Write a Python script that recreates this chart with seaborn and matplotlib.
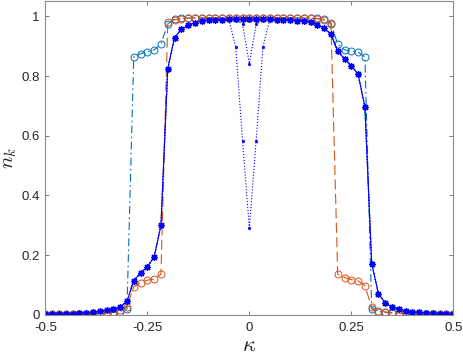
import numpy as np
import matplotlib
matplotlib.use("Agg")
import matplotlib.pyplot as plt
import seaborn as sns

# momentum grid, 61 points from -0.5 to 0.5
kappa = np.linspace(-0.5, 0.5, 61)

# cyan circles, dash-dot
n_cyan = [0.002, 0.002, 0.002, 0.002, 0.002, 0.003, 0.003, 0.004, 0.005, 0.006,
          0.008, 0.011, 0.020, 0.864, 0.875, 0.881, 0.888, 0.907, 0.975, 0.990,
          0.993, 0.994, 0.995, 0.995, 0.995, 0.995, 0.995, 0.995, 0.995, 0.995,
          0.995, 0.995, 0.995, 0.995, 0.995, 0.995, 0.995, 0.995, 0.995, 0.994,
          0.993, 0.990, 0.975, 0.907, 0.888, 0.883, 0.880, 0.864, 0.020, 0.011,
          0.008, 0.006, 0.005, 0.004, 0.003, 0.003, 0.002, 0.002, 0.002, 0.002,
          0.002]

# orange circles, dashed
n_orange = [0.002, 0.002, 0.002, 0.002, 0.002, 0.003, 0.004, 0.005, 0.007, 0.009,
            0.011, 0.016, 0.025, 0.094, 0.108, 0.116, 0.120, 0.136, 0.980, 0.989,
            0.992, 0.994, 0.995, 0.995, 0.995, 0.995, 0.995, 0.995, 0.995, 0.995,
            0.995, 0.995, 0.995, 0.995, 0.995, 0.995, 0.995, 0.995, 0.995, 0.994,
            0.992, 0.988, 0.979, 0.136, 0.125, 0.118, 0.114, 0.098, 0.025, 0.014,
            0.010, 0.008, 0.006, 0.005, 0.004, 0.003, 0.002, 0.002, 0.002, 0.002,
            0.002]

# blue asterisks, solid
n_star = [0.003, 0.003, 0.003, 0.003, 0.004, 0.005, 0.007, 0.009, 0.012, 0.016,
          0.020, 0.027, 0.045, 0.114, 0.141, 0.161, 0.194, 0.300, 0.825, 0.929,
          0.956, 0.970, 0.979, 0.984, 0.987, 0.989, 0.989, 0.990, 0.990, 0.990,
          0.990, 0.990, 0.990, 0.990, 0.989, 0.988, 0.987, 0.986, 0.984, 0.981,
          0.972, 0.961, 0.940, 0.884, 0.857, 0.835, 0.806, 0.697, 0.172, 0.070,
          0.040, 0.026, 0.020, 0.014, 0.011, 0.008, 0.006, 0.005, 0.004, 0.003,
          0.003]

# blue dots, dotted (deep dip at centre)
n_dip1 = [0.003, 0.003, 0.003, 0.003, 0.004, 0.005, 0.007, 0.009, 0.012, 0.016,
          0.020, 0.027, 0.045, 0.114, 0.141, 0.161, 0.194, 0.300, 0.825, 0.929,
          0.956, 0.970, 0.979, 0.984, 0.987, 0.989, 0.989, 0.988, 0.897, 0.583,
          0.291, 0.583, 0.897, 0.988, 0.989, 0.988, 0.987, 0.986, 0.984, 0.981,
          0.972, 0.961, 0.940, 0.884, 0.857, 0.835, 0.806, 0.697, 0.172, 0.070,
          0.040, 0.026, 0.020, 0.014, 0.011, 0.008, 0.006, 0.005, 0.004, 0.003,
          0.003]

# blue dots, dotted (shallow dip at centre)
n_dip2 = [0.003, 0.003, 0.003, 0.003, 0.004, 0.005, 0.007, 0.009, 0.012, 0.016,
          0.020, 0.027, 0.045, 0.114, 0.141, 0.161, 0.194, 0.300, 0.825, 0.929,
          0.956, 0.970, 0.979, 0.984, 0.987, 0.989, 0.989, 0.990, 0.989, 0.973,
          0.842, 0.973, 0.989, 0.990, 0.989, 0.988, 0.987, 0.986, 0.984, 0.981,
          0.972, 0.961, 0.940, 0.884, 0.857, 0.835, 0.806, 0.697, 0.172, 0.070,
          0.040, 0.026, 0.020, 0.014, 0.011, 0.008, 0.006, 0.005, 0.004, 0.003,
          0.003]

xticks = [-0.5, -0.25, 0, 0.25, 0.5]
xtick_labels = ["-0.5", "-0.25", "0", "0.25", "0.5"]
yticks = [0, 0.2, 0.4, 0.6, 0.8, 1]
ytick_labels = ["0", "0.2", "0.4", "0.6", "0.8", "1"]

sns.set_theme(style="ticks")
plt.rcParams["font.family"] = ["Liberation Sans", "DejaVu Sans"]
plt.rcParams["mathtext.fontset"] = "cm"

c_cyan = "#0072BD"
c_orange = "#D95319"
c_blue = "#0000FF"

fig, ax = plt.subplots(figsize=(4.63, 3.59), dpi=100)
fig.subplots_adjust(left=0.098, right=0.979, bottom=0.123, top=0.996)

sns.lineplot(x=kappa, y=n_cyan, ax=ax, color=c_cyan, linestyle=(0, (7, 3, 1.5, 3)), linewidth=0.8,
             marker="o", markersize=5, markerfacecolor="none",
             markeredgecolor=c_cyan, markeredgewidth=0.7, errorbar=None, sort=False)
sns.lineplot(x=kappa, y=n_orange, ax=ax, color=c_orange, linestyle=(0, (9, 4)), linewidth=0.8,
             marker="o", markersize=5, markerfacecolor="none",
             markeredgecolor=c_orange, markeredgewidth=0.7, errorbar=None, sort=False)
sns.lineplot(x=kappa, y=n_dip1, ax=ax, color=c_blue, linestyle=":", linewidth=0.8,
             marker=".", markersize=3.5, markeredgecolor=c_blue, markeredgewidth=0.5,
             errorbar=None, sort=False)
sns.lineplot(x=kappa, y=n_dip2, ax=ax, color=c_blue, linestyle=":", linewidth=0.8,
             marker=".", markersize=3.5, markeredgecolor=c_blue, markeredgewidth=0.5,
             errorbar=None, sort=False)
sns.lineplot(x=kappa, y=n_star, ax=ax, color=c_blue, linestyle="-", linewidth=0.8,
             marker=(8, 2, 0), markersize=5, markeredgecolor=c_blue, markeredgewidth=0.9,
             errorbar=None, sort=False)

ax.set_xlim(-0.5, 0.5)
ax.set_ylim(0, 1.05)
ax.set_xticks(xticks)
ax.set_xticklabels(xtick_labels)
ax.set_yticks(yticks)
ax.set_yticklabels(ytick_labels)

for side in ["top", "right", "left", "bottom"]:
    ax.spines[side].set_visible(True)
    ax.spines[side].set_color("0.55")
    ax.spines[side].set_linewidth(0.8)
ax.tick_params(direction="in", length=3, width=0.6, color="0.4", labelsize=9.5,
               labelcolor="#262626", top=True, right=True, pad=4)
ax.tick_params(axis="x", pad=5)

ax.set_xlabel(r"$\kappa$", fontsize=16, labelpad=1)
ax.set_ylabel(r"$n_k$", fontsize=15, labelpad=2)

fig.savefig("out.png", dpi=100)
